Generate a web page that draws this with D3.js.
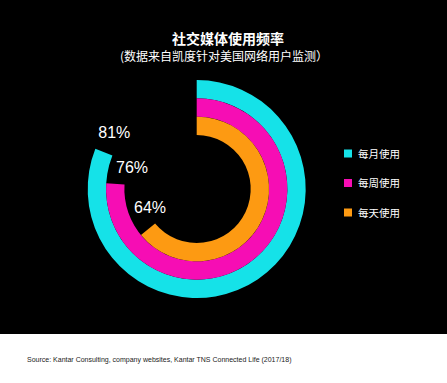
<!DOCTYPE html>
<html><head><meta charset="utf-8">
<script src="https://cdn.jsdelivr.net/npm/d3@7"></script>
<style>html,body{margin:0;padding:0;background:#000;}svg{display:block;}</style>
</head><body>
<script>
const categories = ["每月使用", "每周使用", "每天使用"];
const values = [81, 76, 64];
const labels = ["81%", "76%", "64%"];
const colors = ["#15e2e8", "#f60db4", "#fd9a12"];
const title = "社交媒体使用频率";
const subtitle = "(数据来自凯度针对美国网络用户监测）";
const source = "Source: Kantar Consulting, company websites, Kantar TNS Connected Life (2017/18)";

const W = 447, H = 383;
const svg = d3.select("body").append("svg").attr("width", W).attr("height", H);
svg.append("rect").attr("width", W).attr("height", H).attr("fill", "#000");
svg.append("rect").attr("x", 0).attr("y", 334).attr("width", W).attr("height", H - 334).attr("fill", "#fff");

svg.append("text").attr("x", 228).attr("y", 44).attr("text-anchor", "middle")
  .attr("fill", "#fff").attr("font-family", "'Noto Sans CJK SC', sans-serif")
  .attr("font-weight", "bold").attr("font-size", 14).text(title);
svg.append("text").attr("x", 224).attr("y", 61).attr("text-anchor", "middle")
  .attr("fill", "#fff").attr("font-family", "'Noto Sans CJK SC', sans-serif")
  .attr("font-size", 12).text(subtitle);

const cx = 196.7, cy = 189;
const angle = d3.scaleLinear().domain([0, 100]).range([0, 2 * Math.PI]);
// outermost ring first
const ring = d3.scaleBand().domain(categories).range([109, 54]).paddingInner(0);
const arc = d3.arc()
  .innerRadius(d => ring(d.cat))
  .outerRadius(d => ring(d.cat) + ring.bandwidth())
  .startAngle(0)
  .endAngle(d => angle(d.v));
const g = svg.append("g").attr("transform", `translate(${cx},${cy})`);
const data = categories.map((c, i) => ({cat: c, v: values[i], color: colors[i], label: labels[i]}));
g.selectAll("path").data(data).join("path").attr("d", arc).attr("fill", d => d.color);

// percentage labels just past the end of each arc
const labelPos = [[98.3, 138.3], [116, 172.7], [134, 212.7]];
g.selectAll("text.lbl").data(data).join("text").attr("class", "lbl")
  .attr("x", (d, i) => labelPos[i][0] - cx).attr("y", (d, i) => labelPos[i][1] - cy)
  .attr("fill", "#fff").attr("font-family", "'Liberation Sans', Arial, sans-serif")
  .attr("font-size", 16).text(d => d.label);

// legend
const legY = d3.scalePoint().domain(categories).range([153.5, 212.5]);
const leg = svg.append("g");
leg.selectAll("rect").data(data).join("rect")
  .attr("x", 344).attr("y", d => legY(d.cat) - 4).attr("width", 8).attr("height", 8)
  .attr("fill", d => d.color);
leg.selectAll("text").data(data).join("text")
  .attr("x", 358).attr("y", d => legY(d.cat) + 4)
  .attr("fill", "#fff").attr("font-family", "'Noto Sans CJK SC', sans-serif")
  .attr("font-size", 10.5).text(d => d.cat);

const src = svg.append("text").attr("x", 27).attr("y", 362)
  .attr("fill", "#222").attr("font-family", "'Liberation Sans', Arial, sans-serif")
  .attr("font-size", 7).text(source);
const len = src.node().getComputedTextLength();
if (Math.abs(len - 266) > 3) src.attr("textLength", 266).attr("lengthAdjust", "spacingAndGlyphs");
</script>
</body></html>
